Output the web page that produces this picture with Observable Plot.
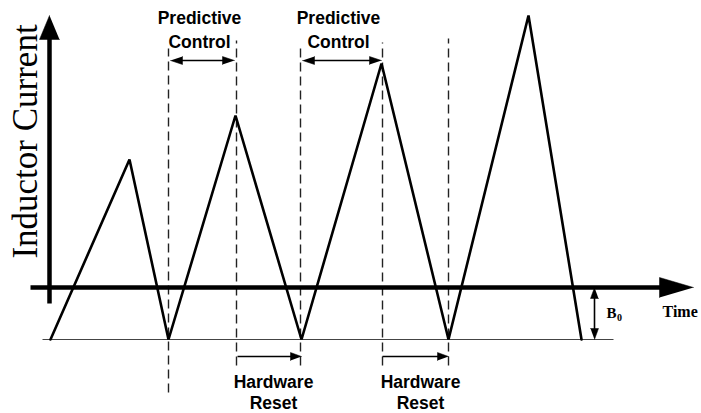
<!DOCTYPE html>
<html>
<head>
<meta charset="utf-8">
<script src="https://cdn.jsdelivr.net/npm/d3@7"></script>
<script src="https://cdn.jsdelivr.net/npm/@observablehq/plot@0.6"></script>
<style>
  html, body { margin: 0; padding: 0; background: #fff; }
  #chart svg { display: block; }
</style>
</head>
<body>
<div id="chart"></div>
<script>
// ---- data (time units, current units; time axis at current = 0) ----
const waveTimes    = [1, 80, 119, 186, 252, 332, 399, 479, 532];
const waveCurrents = [-52, 128, -52, 172, -52, 224, -52, 272, -52];
const baseCurrent  = -52;             // -B0
const baseStart = -7, baseEnd = 564;  // extent of the B0 reference line
const timeAxis = {start: -19, tip: 644};
const currentAxis = {start: -16, tip: 272};

const markerTimes   = [119, 187, 251, 333, 399];
const markerTops    = [239, 247, 239, 245, 249];
const markerBottoms = [-105, -78, -78, -78, -78];

const predictiveStarts = [121, 253];
const predictiveEnds   = [185, 332];
const predictiveLevel  = 227;
const predictiveLabelT = [150, 289];

const resetStarts = [188, 333];
const resetEnds   = [252, 399];
const resetLevel  = -69;
const resetLabelT = [224, 371];

const b0Time = 545;

// ---- helpers ----
const tri = [];
let triId = 0;
function head(tx, ty, dx, dy, len, hw) {
  const bx = tx - dx * len, by = ty - dy * len;
  const px = -dy, py = dx;
  const id = triId++;
  tri.push({id, x: tx, y: ty});
  tri.push({id, x: bx + px * hw, y: by + py * hw});
  tri.push({id, x: bx - px * hw, y: by - py * hw});
}

const wave = waveTimes.map((t, i) => ({t, c: waveCurrents[i]}));
const markers = markerTimes.map((t, i) => ({t, top: markerTops[i], bottom: markerBottoms[i]}));

const shafts = [];
// main axes
shafts.push({x1: timeAxis.start, y1: 0, x2: timeAxis.tip - 30, y2: 0, w: 4.5});
shafts.push({x1: 0, y1: currentAxis.start, x2: 0, y2: currentAxis.tip - 20, w: 4.5});
head(timeAxis.tip, 0, 1, 0, 34, 10);
head(0, currentAxis.tip, 0, 1, 24, 10);

// predictive control double arrows
predictiveStarts.forEach((s, i) => {
  const e = predictiveEnds[i];
  shafts.push({x1: s + 8, y1: predictiveLevel, x2: e - 8, y2: predictiveLevel, w: 1.6});
  head(s, predictiveLevel, -1, 0, 12, 4);
  head(e, predictiveLevel, 1, 0, 12, 4);
});
// hardware reset arrows
resetStarts.forEach((s, i) => {
  const e = resetEnds[i];
  shafts.push({x1: s, y1: resetLevel, x2: e - 8, y2: resetLevel, w: 1.6});
  head(e, resetLevel, 1, 0, 11, 4);
});
// B0 double arrow
shafts.push({x1: b0Time, y1: -6, x2: b0Time, y2: baseCurrent + 6, w: 1.6});
head(b0Time, 0, 0, 1, 11, 4);
head(b0Time, baseCurrent, 0, -1, 11, 4);

const sansLabels = [];
predictiveLabelT.forEach(t => {
  sansLabels.push({t, c: 269, text: "Predictive"});
  sansLabels.push({t, c: 245, text: "Control"});
});
resetLabelT.forEach(t => {
  sansLabels.push({t, c: -95, text: "Hardware"});
  sansLabels.push({t, c: -116, text: "Reset"});
});

const chart = Plot.plot({
  width: 701,
  height: 413,
  margin: 0,
  x: {domain: [-49, 652], range: [0, 701], axis: null},
  y: {domain: [-126, 287], range: [413, 0], axis: null},
  style: {background: "#fff"},
  marks: [
    // B0 reference line
    Plot.link([{}], {x1: baseStart, x2: baseEnd, y1: baseCurrent, y2: baseCurrent, stroke: "#444", strokeWidth: 1}),
    // dashed markers
    Plot.link(markers, {x1: "t", x2: "t", y1: "bottom", y2: "top", stroke: "#222", strokeWidth: 1.4, strokeDasharray: "9,5"}),
    // waveform
    Plot.line(wave, {x: "t", y: "c", stroke: "#000", strokeWidth: 2.6, strokeLinejoin: "miter"}),
    // shafts
    Plot.link(shafts, {x1: "x1", y1: "y1", x2: "x2", y2: "y2", stroke: "#000", strokeWidth: "w"}),
    // arrowheads
    Plot.line(tri, {x: "x", y: "y", z: "id", fill: "#000", stroke: "#000", strokeWidth: 0.5}),
    // labels
    Plot.text(sansLabels, {x: "t", y: "c", text: "text", fontFamily: "Liberation Sans, Arial, sans-serif", fontWeight: "bold", fontSize: 17.5, fill: "#000", lineAnchor: "middle"}),
    Plot.text(["Inductor Current"], {x: -13, y: 146, text: d => d, rotate: -90, lineAnchor: "bottom", fontFamily: "Liberation Serif, Times New Roman, serif", fontSize: 35, fill: "#000"}),
    Plot.text(["Time"], {x: 613, y: -29, text: d => d, textAnchor: "start", lineAnchor: "bottom", fontFamily: "Liberation Serif, Times New Roman, serif", fontWeight: "bold", fontSize: 16, fill: "#000"}),
    Plot.text(["B"], {x: 557, y: -30, text: d => d, textAnchor: "start", lineAnchor: "bottom", fontFamily: "Liberation Serif, Times New Roman, serif", fontWeight: "bold", fontSize: 15, fill: "#000"}),
    Plot.text(["0"], {x: 567.5, y: -33, text: d => d, textAnchor: "start", lineAnchor: "bottom", fontFamily: "Liberation Serif, Times New Roman, serif", fontWeight: "bold", fontSize: 10, fill: "#000"})
  ]
});
document.getElementById("chart").appendChild(chart);
</script>
</body>
</html>
